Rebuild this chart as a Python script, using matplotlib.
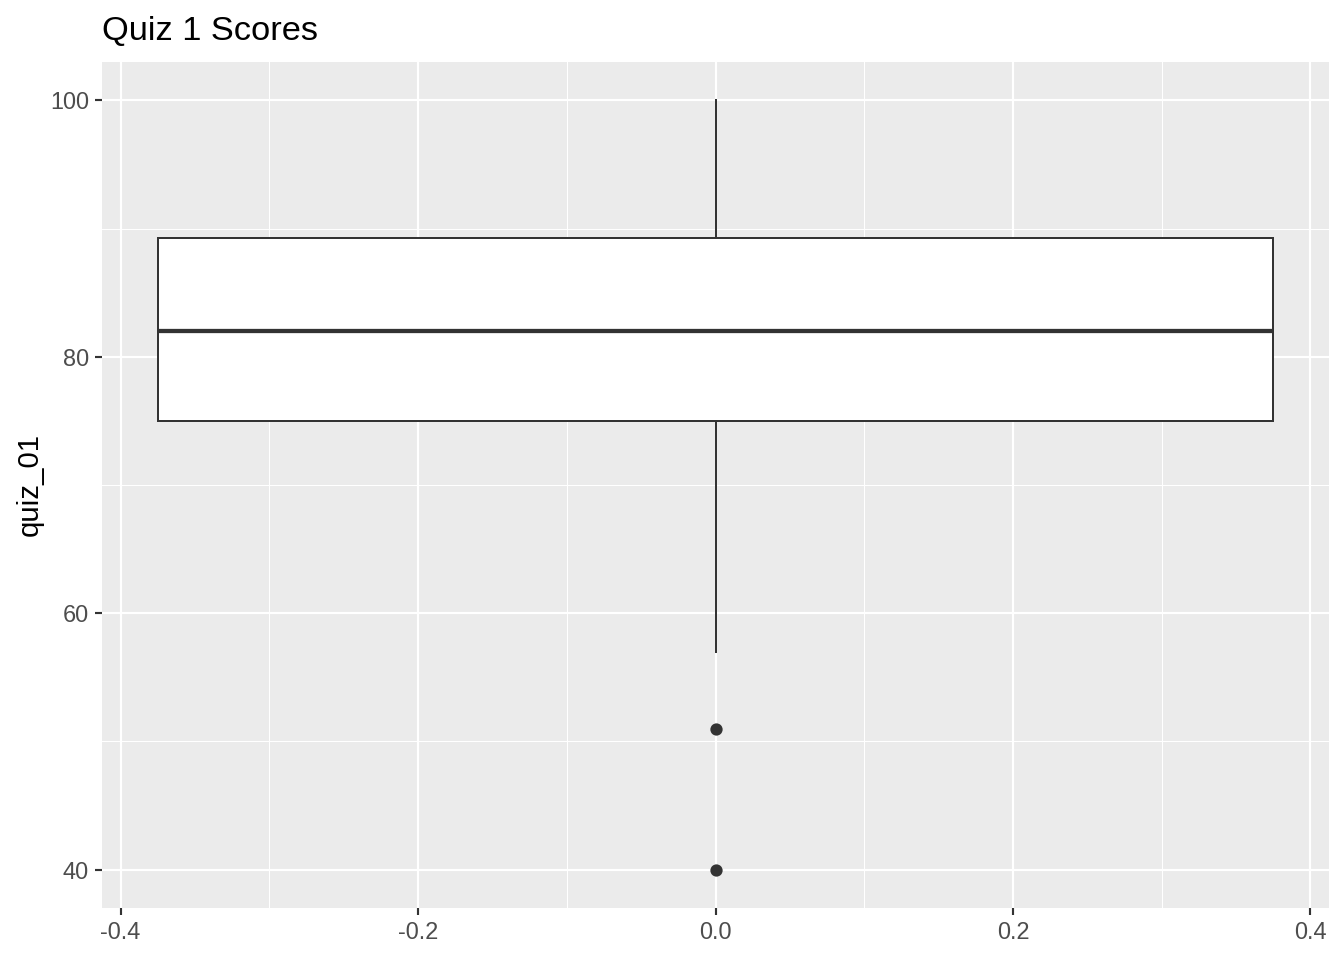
import matplotlib
matplotlib.use("Agg")
import matplotlib.pyplot as plt

# box statistics for quiz_01
q1 = 75
median = 82
q3 = 89.3
whisker_low = 57
whisker_high = 100
outliers = [51, 40]

x_ticks = [-0.4, -0.2, 0.0, 0.2, 0.4]
x_tick_labels = ["-0.4", "-0.2", "0.0", "0.2", "0.4"]
x_minor = [-0.3, -0.1, 0.1, 0.3]
y_ticks = [40, 60, 80, 100]
y_minor = [50, 70, 90]

plt.rcParams['font.family'] = ['Liberation Sans', 'DejaVu Sans']
plt.rcParams['axes.unicode_minus'] = False

W, H = 1344, 960
fig = plt.figure(figsize=(7, 5), dpi=192)
ax = fig.add_axes([102 / W, 1 - 908 / H, (1329 - 102) / W, (908 - 62) / H])
ax.set_facecolor("#EBEBEB")
for s in ax.spines.values():
    s.set_visible(False)

stats = [{
    "med": median, "q1": q1, "q3": q3,
    "whislo": whisker_low, "whishi": whisker_high,
    "fliers": outliers,
}]
ax.bxp(stats, positions=[0], widths=0.75, patch_artist=True, showcaps=False,
       boxprops=dict(facecolor="white", edgecolor="#333333", linewidth=0.75),
       medianprops=dict(color="#333333", linewidth=1.6, solid_capstyle="butt"),
       whiskerprops=dict(color="#333333", linewidth=0.75),
       flierprops=dict(marker="o", markerfacecolor="#333333",
                       markeredgecolor="#333333", markersize=3.6),
       manage_ticks=False, zorder=3)

ax.set_xlim(-0.4125, 0.4125)
ax.set_ylim(37, 103)
ax.set_xticks(x_ticks)
ax.set_xticklabels(x_tick_labels)
ax.set_xticks(x_minor, minor=True)
ax.set_yticks(y_ticks)
ax.set_yticks(y_minor, minor=True)

ax.grid(True, which="major", color="white", linewidth=0.8, zorder=0)
ax.grid(True, which="minor", color="white", linewidth=0.4, zorder=0)
ax.set_axisbelow(True)

ax.tick_params(which="major", length=2.75, width=0.8, color="#333333",
               labelcolor="#4D4D4D", labelsize=8.8, pad=2.2)
ax.tick_params(which="minor", length=0)

fig.text(102 / W, 1 - 40 / H, "Quiz 1 Scores", fontsize=12.9,
         ha="left", va="baseline", color="black")
fig.text(30 / W, 1 - 485 / H, "quiz_01", fontsize=11, rotation=90,
         ha="center", va="center", color="black")

fig.savefig("out.png", dpi=192, facecolor="white")
